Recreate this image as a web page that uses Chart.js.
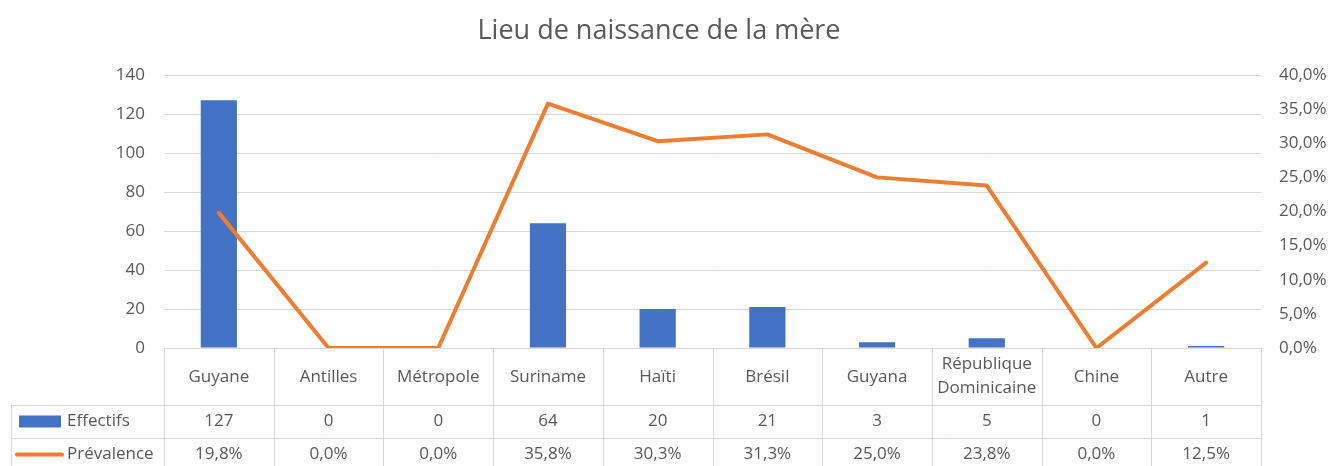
<!DOCTYPE html>
<html>
<head>
<meta charset="utf-8">
<script src="https://cdn.jsdelivr.net/npm/chart.js@4"></script>
<style>
html,body{margin:0;padding:0;background:#fff;}
canvas{display:block;}
</style>
</head>
<body>
<canvas id="c" width="1334" height="466"></canvas>
<script>
const title = 'Lieu de naissance de la mère';
const categories = ['Guyane','Antilles','Métropole','Suriname','Haïti','Brésil','Guyana',['République','Dominicaine'],'Chine','Autre'];
const effectifs = [127,0,0,64,20,21,3,5,0,1];
const prevalence = [19.8,0.0,0.0,35.8,30.3,31.3,25.0,23.8,0.0,12.5];
const seriesNames = ['Effectifs','Prévalence'];

const FONT = '"Open Sans", "DejaVu Sans", sans-serif';
const TXT = '#595959';
const GRID = '#d9d9d9';
const BLUE = '#4472C4';
const ORANGE = '#ED7D31';
const pct = v => Number(v).toFixed(1).replace('.', ',') + '%';

const tablePlugin = {
  id: 'tablePlugin',
  afterDraw(chart) {
    const ctx = chart.ctx;
    const ca = chart.chartArea;
    const x = chart.scales.x;
    const n = categories.length;
    const w = (ca.right - ca.left) / n;
    const top = ca.bottom;
    const r1 = top + 57, r2 = r1 + 33, r3 = r2 + 33;
    const tl = 11;
    ctx.save();
    // title
    ctx.fillStyle = TXT;
    ctx.font = '27px ' + FONT;
    ctx.textAlign = 'center';
    ctx.textBaseline = 'middle';
    ctx.fillText(title, 659, 31);
    // grid lines of table
    ctx.strokeStyle = GRID;
    ctx.lineWidth = 1;
    ctx.beginPath();
    ctx.moveTo(ca.left, top + 0.5); ctx.lineTo(ca.right, top + 0.5);
    ctx.moveTo(tl, r1 + 0.5); ctx.lineTo(ca.right, r1 + 0.5);
    ctx.moveTo(tl, r2 + 0.5); ctx.lineTo(ca.right, r2 + 0.5);
    ctx.moveTo(tl, r3 + 0.5); ctx.lineTo(ca.right, r3 + 0.5);
    ctx.moveTo(tl + 0.5, r1); ctx.lineTo(tl + 0.5, r3);
    for (let i = 0; i <= n; i++) {
      const xx = Math.round(ca.left + i * w) + 0.5;
      ctx.moveTo(xx, top); ctx.lineTo(xx, r3);
    }
    ctx.stroke();
    // texts
    ctx.fillStyle = TXT;
    ctx.font = '17px ' + FONT;
    ctx.textAlign = 'center';
    ctx.textBaseline = 'middle';
    for (let i = 0; i < n; i++) {
      const cx = x.getPixelForValue(i);
      const lab = categories[i];
      if (Array.isArray(lab)) {
        ctx.fillText(lab[0], cx, top + 16);
        ctx.fillText(lab[1], cx, top + 40);
      } else {
        ctx.fillText(lab, cx, top + 29);
      }
      ctx.fillText(String(effectifs[i]), cx, (r1 + r2) / 2);
      ctx.fillText(pct(prevalence[i]), cx, (r2 + r3) / 2);
    }
    // row headers
    ctx.textAlign = 'left';
    ctx.fillText(seriesNames[0], 67, (r1 + r2) / 2);
    ctx.fillText(seriesNames[1], 67, (r2 + r3) / 2);
    ctx.fillStyle = BLUE;
    ctx.fillRect(19, (r1 + r2) / 2 - 6, 42, 12);
    ctx.strokeStyle = ORANGE;
    ctx.lineWidth = 4;
    ctx.lineCap = 'round';
    ctx.beginPath();
    ctx.moveTo(17, (r2 + r3) / 2); ctx.lineTo(62, (r2 + r3) / 2);
    ctx.stroke();
    ctx.restore();
  }
};

new Chart(document.getElementById('c'), {
  data: {
    labels: categories,
    datasets: [
      {
        type: 'line',
        label: seriesNames[1],
        data: prevalence,
        yAxisID: 'y1',
        borderColor: ORANGE,
        backgroundColor: ORANGE,
        borderWidth: 4,
        pointRadius: 0,
        tension: 0,
        borderCapStyle: 'round',
        borderJoinStyle: 'round',
        order: 0
      },
      {
        type: 'bar',
        label: seriesNames[0],
        data: effectifs,
        yAxisID: 'y',
        backgroundColor: BLUE,
        barPercentage: 0.33,
        categoryPercentage: 1,
        order: 1
      }
    ]
  },
  options: {
    responsive: false,
    animation: false,
    layout: { padding: { top: 75, bottom: 118, left: 0, right: 0 } },
    plugins: { legend: { display: false }, title: { display: false }, tooltip: { enabled: false } },
    scales: {
      x: { type: 'category', display: false, offset: true },
      y: {
        position: 'left',
        min: 0, max: 140,
        ticks: { stepSize: 20, color: TXT, font: { family: FONT, size: 17 }, padding: 19 },
        grid: { color: GRID, drawTicks: false },
        border: { display: false },
        afterFit(s) { s.width = 164; }
      },
      y1: {
        position: 'right',
        min: 0, max: 40,
        ticks: { stepSize: 5, color: TXT, font: { family: FONT, size: 17 }, padding: 18, callback: v => pct(v) },
        grid: { display: false, drawTicks: false },
        border: { display: false },
        afterFit(s) { s.width = 73; }
      }
    }
  },
  plugins: [tablePlugin]
});
</script>
</body>
</html>
